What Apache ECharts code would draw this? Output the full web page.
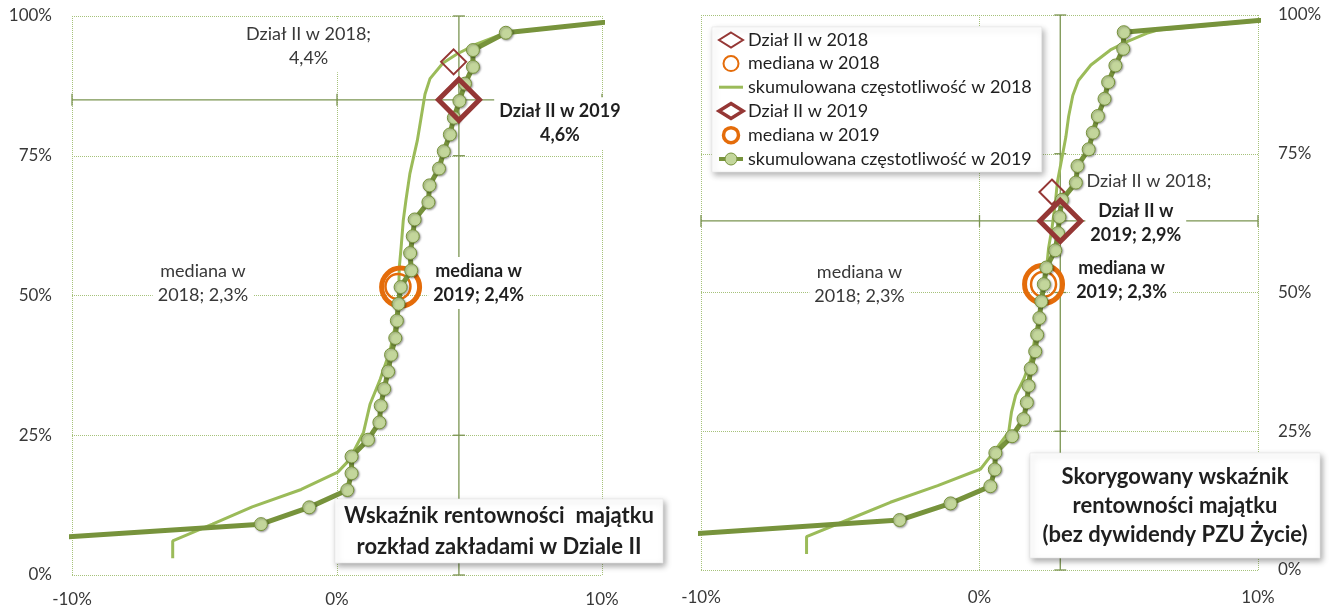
<!DOCTYPE html>
<html>
<head>
<meta charset="utf-8">
<script src="https://cdn.jsdelivr.net/npm/echarts@6/dist/echarts.min.js"></script>
<style>
  html, body { margin: 0; padding: 0; background: #ffffff; }
  #chart { width: 1329px; height: 610px; }
</style>
</head>
<body>
<div id="chart"></div>
<script>
// ---------- axes ----------
const X_MIN = -10, X_MAX = 10, X_STEP = 10;
const Y_MIN = 0, Y_MAX = 100, Y_STEP = 25;
const xTickValues = [-10, 0, 10];
const yTickValues = [0, 25, 50, 75, 100];

// ---------- series names ----------
const NAME_D2018 = 'Dział II w 2018';
const NAME_M2018 = 'mediana w 2018';
const NAME_C2018 = 'skumulowana częstotliwość w 2018';
const NAME_D2019 = 'Dział II w 2019';
const NAME_M2019 = 'mediana w 2019';
const NAME_C2019 = 'skumulowana częstotliwość w 2019';

// ---------- left panel: ROA, distribution of insurers in Dział II ----------
// [rate of return %, cumulative share %]
const cum2019Left = [
  [-2.87, 9.1], [-1.05, 12.1], [0.39, 15.2], [0.55, 18.2], [0.55, 21.2],
  [1.17, 24.2], [1.60, 27.3], [1.65, 30.3], [1.78, 33.3], [1.93, 36.4],
  [2.04, 39.4], [2.20, 42.4], [2.26, 45.5], [2.32, 48.5], [2.40, 51.5],
  [2.80, 54.5], [2.76, 57.6], [2.86, 60.6], [2.93, 63.6], [3.45, 66.7],
  [3.49, 69.7], [3.85, 72.7], [4.03, 75.8], [4.26, 78.8], [4.41, 81.8],
  [4.62, 84.8], [4.83, 87.9], [5.13, 90.9], [5.13, 93.9], [6.37, 97.0]
];
const cum2019LeftTails = [[-12.5, 6.1], [12.3, 100]];
const cum2018Left = [
  [-6.2, 3.0], [-6.2, 6.1], [-4.7, 9.1], [-3.2, 12.2], [-1.35, 15.3],
  [0.03, 18.4], [0.45, 20.5], [1.0, 25.5], [1.25, 30.6], [1.63, 35.0],
  [2.0, 40.1], [2.2, 44.6], [2.32, 49.0], [2.35, 55.0], [2.42, 58.6],
  [2.5, 63.4], [2.6, 67.0], [2.75, 71.8], [3.03, 77.7],
  [3.32, 86.0], [3.51, 88.8], [4.0, 91.6], [4.53, 93.2], [5.28, 95.0],
  [6.04, 96.4], [6.5, 97.0], [12.3, 100]
];
const dzial2018Left = [4.4, 91.8];
const dzial2019Left = [4.6, 85.0];
const median2018Left = [2.3, 51.6];
const median2019Left = [2.4, 51.5];

// ---------- right panel: adjusted ROA (without PZU Życie dividend) ----------
const cum2019Right = [
  [-2.87, 9.0], [-1.04, 12.0], [0.39, 15.1], [0.55, 18.1], [0.57, 21.1],
  [1.17, 24.1], [1.58, 27.2], [1.70, 30.2], [1.76, 33.2], [1.84, 36.3],
  [2.00, 39.4], [2.07, 42.4], [2.15, 45.4], [2.22, 48.4], [2.31, 51.5],
  [2.40, 54.5], [2.72, 57.6], [2.82, 60.7], [2.87, 63.6], [2.96, 66.7],
  [3.46, 69.8], [3.52, 72.8], [3.92, 75.8], [4.07, 78.8], [4.25, 81.8],
  [4.49, 84.9], [4.62, 87.9], [4.88, 90.9], [5.16, 93.9], [5.18, 96.9]
];
const cum2019RightTails = [[-11.5, 6.1], [12.3, 100]];
const cum2018Right = [
  [-6.21, 2.9], [-6.21, 6.0], [-4.7, 9.1], [-3.2, 12.2], [-1.5, 15.2],
  [0.04, 18.2], [0.55, 21.5], [1.05, 24.9], [1.15, 28.5], [1.3, 31.5],
  [1.6, 34.5], [1.85, 38.0], [2.0, 42.0], [2.15, 46.0], [2.3, 50.0],
  [2.4, 54.0], [2.48, 58.0], [2.6, 61.5], [2.72, 66.0], [2.8, 70.0],
  [2.97, 74.5], [3.1, 78.0], [3.2, 81.7], [3.35, 85.5], [3.55, 88.2],
  [4.0, 91.0], [4.7, 93.7], [5.3, 95.2], [6.0, 96.7], [6.4, 97.3], [12.3, 100]
];
const dzial2018Right = [2.6, 68.1];
const dzial2019Right = [2.9, 62.9];
const median2018Right = [2.3, 51.5];
const median2019Right = [2.3, 51.5];

// ---------- panel captions ----------
const captionLeft = 'Wskaźnik rentowności  majątku\nrozkład zakładami w Dziale II';
const captionRight = 'Skorygowany wskaźnik\nrentowności majątku\n(bez dywidendy PZU Życie)';

// ---------- styling ----------
const FONT = 'Lato, "Open Sans", sans-serif';
const GRID_COLOR = '#a6c27a';
const CROSS_COLOR = '#7a9450';
const DARK_GREEN = '#77933c';
const LIGHT_GREEN = '#9bbb59';
const MARKER_FILL = '#c3d69b';
const DARK_RED = '#953735';
const ORANGE = '#e46c0a';
const TEXT_GRAY = '#383838';
const TEXT_DARK = '#1f1f1f';

const pct = v => v.toFixed(1).replace('.', ',') + '%';

function labelStyle(bold, offset, formatter) {
  return {
    show: true,
    position: 'inside',
    offset: offset,
    formatter: formatter,
    fontFamily: FONT,
    fontSize: 18,
    fontWeight: bold ? 'bold' : 'normal',
    color: bold ? TEXT_DARK : TEXT_GRAY,
    lineHeight: 24,
    align: 'center',
    verticalAlign: 'middle',
    backgroundColor: '#ffffff',
    padding: [2, 5]
  };
}

// crosshair through the Dział II 2019 point, with small cross ticks at grid lines
function crosshairRender(params, api) {
  const x0 = api.value(0), y0 = api.value(1);
  const top = api.coord([x0, Y_MAX]), bottom = api.coord([x0, Y_MIN]);
  const left = api.coord([X_MIN, y0]), right = api.coord([X_MAX, y0]);
  const style = { stroke: CROSS_COLOR, lineWidth: 1.3 };
  const children = [
    { type: 'line', shape: { x1: top[0], y1: top[1], x2: bottom[0], y2: bottom[1] }, style },
    { type: 'line', shape: { x1: left[0], y1: left[1], x2: right[0], y2: right[1] }, style }
  ];
  yTickValues.forEach(v => {
    const p = api.coord([x0, v]);
    children.push({ type: 'line', shape: { x1: p[0] - 6, y1: p[1], x2: p[0] + 6, y2: p[1] }, style });
  });
  xTickValues.forEach(v => {
    const p = api.coord([v, y0]);
    children.push({ type: 'line', shape: { x1: p[0], y1: p[1] - 6, x2: p[0], y2: p[1] + 6 }, style });
  });
  return { type: 'group', children };
}

function panelSeries(idx, d, labels) {
  const ax = { xAxisIndex: idx, yAxisIndex: idx };
  const line2019 = [{ value: d.tails[0], symbol: 'none' }]
    .concat(d.cum2019.map(p => ({ value: p })))
    .concat([{ value: d.tails[1], symbol: 'none' }]);
  return [
    Object.assign({
      type: 'custom', name: 'crosshair', z: 1, silent: true,
      renderItem: crosshairRender, data: [d.d2019]
    }, ax),
    Object.assign({
      type: 'line', name: NAME_C2018, z: 2, data: d.cum2018,
      symbol: 'none', color: LIGHT_GREEN,
      lineStyle: { color: LIGHT_GREEN, width: 3 },
      itemStyle: { color: LIGHT_GREEN }
    }, ax),
    Object.assign({
      type: 'scatter', name: NAME_D2018, z: 3, data: [d.d2018],
      symbol: 'diamond', symbolSize: 25,
      itemStyle: { color: 'rgba(0,0,0,0)', borderColor: DARK_RED, borderWidth: 2, opacity: 1 },
      label: labelStyle(false, labels.d2018, p => 'Dział II w 2018;\n' + pct(p.value[0]))
    }, ax),
    Object.assign({
      type: 'scatter', name: NAME_M2018, z: 3, data: [d.m2018],
      symbol: 'circle', symbolSize: 25,
      itemStyle: { color: 'rgba(0,0,0,0)', borderColor: ORANGE, borderWidth: 2.5, opacity: 1 },
      label: labelStyle(false, labels.m2018, p => 'mediana w\n2018; ' + pct(p.value[0]))
    }, ax),
    Object.assign({
      type: 'scatter', name: NAME_D2019, z: 4, zlevel: 1, data: [d.d2019],
      symbol: 'diamond', symbolSize: 41,
      itemStyle: { color: 'rgba(0,0,0,0)', borderColor: DARK_RED, borderWidth: 5, opacity: 1 },
      label: labelStyle(true, labels.d2019, labels.d2019Text)
    }, ax),
    Object.assign({
      type: 'scatter', name: NAME_M2019, z: 4, data: [d.m2019],
      symbol: 'circle', symbolSize: 38,
      itemStyle: { color: 'rgba(0,0,0,0)', borderColor: ORANGE, borderWidth: 5, opacity: 1 },
      label: labelStyle(true, labels.m2019, p => 'mediana w\n2019; ' + pct(p.value[0]))
    }, ax),
    Object.assign({
      type: 'line', name: NAME_C2019, z: 5, data: line2019,
      symbol: 'circle', symbolSize: 13, showAllSymbol: true,
      lineStyle: { color: DARK_GREEN, width: 5 },
      itemStyle: {
        color: MARKER_FILL, borderColor: DARK_GREEN, borderWidth: 1,
        shadowBlur: 2, shadowOffsetX: 1, shadowOffsetY: 1, shadowColor: 'rgba(0,0,0,0.35)'
      }
    }, ax)
  ];
}

function xAxis(gridIndex, margin) {
  return {
    type: 'value', gridIndex, min: X_MIN, max: X_MAX, interval: X_STEP,
    axisLine: { show: false }, axisTick: { show: false },
    axisLabel: { formatter: '{value}%', margin, fontFamily: FONT, fontSize: 17, color: TEXT_GRAY },
    splitLine: { show: true, lineStyle: { color: GRID_COLOR, width: 1, type: [1, 1] } }
  };
}
function yAxis(gridIndex, position) {
  return {
    type: 'value', gridIndex, position, min: Y_MIN, max: Y_MAX, interval: Y_STEP,
    axisLine: { show: false }, axisTick: { show: false },
    axisLabel: { formatter: '{value}%', margin: 20, fontFamily: FONT, fontSize: 17, color: TEXT_GRAY },
    splitLine: { show: true, lineStyle: { color: GRID_COLOR, width: 1, type: [1, 1] } }
  };
}

function captionBox(x, y, w, h, text, lineHeight) {
  return {
    type: 'group',
    children: [
      {
        type: 'rect', z: 100,
        shape: { x, y, width: w, height: h },
        style: {
          fill: '#ffffff', stroke: '#e6e6e6', lineWidth: 0.6,
          shadowBlur: 6, shadowOffsetX: 2, shadowOffsetY: 3, shadowColor: 'rgba(0,0,0,0.35)'
        }
      },
      {
        type: 'text', z: 101,
        style: {
          text, x: x + w / 2, y: y + h / 2,
          textAlign: 'center', textVerticalAlign: 'middle',
          font: 'bold 22px ' + FONT, fill: TEXT_DARK, lineHeight
        }
      }
    ]
  };
}

const chart = echarts.init(document.getElementById('chart'), null, { renderer: 'canvas' });

const option = {
  animation: false,
  backgroundColor: '#ffffff',
  grid: [
    { left: 72, top: 16, width: 530, height: 559 },
    { left: 701, top: 15, width: 557, height: 555 }
  ],
  xAxis: [xAxis(0, 16), xAxis(1, 19)],
  yAxis: [yAxis(0, 'left'), yAxis(1, 'right')],
  legend: {
    orient: 'vertical', left: 712, top: 27,
    padding: [4, 10, 4, 5],
    itemWidth: 24, itemHeight: 15, itemGap: 5.6,
    backgroundColor: '#ffffff',
    borderColor: '#e6e6e6', borderWidth: 0.6,
    shadowBlur: 6, shadowOffsetX: 2, shadowOffsetY: 3, shadowColor: 'rgba(0,0,0,0.3)',
    textStyle: { fontFamily: FONT, fontSize: 18, color: TEXT_DARK },
    data: [
      { name: NAME_D2018, icon: 'diamond', itemStyle: { borderWidth: 2, color: 'rgba(0,0,0,0)', borderColor: DARK_RED, opacity: 1 } },
      { name: NAME_M2018, icon: 'circle', itemStyle: { borderWidth: 2, color: 'rgba(0,0,0,0)', borderColor: ORANGE, opacity: 1 } },
      { name: NAME_C2018, icon: 'path://M0,0L24,0L24,3L0,3Z', itemStyle: { color: LIGHT_GREEN, borderWidth: 0 } },
      { name: NAME_D2019, icon: 'diamond', itemStyle: { borderWidth: 3.5, color: '#ffffff', borderColor: DARK_RED, opacity: 1 } },
      { name: NAME_M2019, icon: 'circle', itemStyle: { borderWidth: 3.5, color: '#ffffff', borderColor: ORANGE, opacity: 1 } },
      { name: NAME_C2019, lineStyle: { width: 4 }, itemStyle: { borderWidth: 1 } }
    ]
  },
  graphic: [
    captionBox(335, 499, 328, 64, captionLeft, 31),
    captionBox(1030, 453, 290, 105, captionRight, 29)
  ],
  series: [].concat(
    panelSeries(0, {
      cum2019: cum2019Left, tails: cum2019LeftTails, cum2018: cum2018Left,
      d2018: dzial2018Left, d2019: dzial2019Left, m2018: median2018Left, m2019: median2019Left
    }, {
      d2018: [-145, -15.5], m2018: [-195, -3], d2019: [101, 23.5], m2019: [78, -4],
      d2019Text: p => 'Dział II w 2019\n' + pct(p.value[0])
    }),
    panelSeries(1, {
      cum2019: cum2019Right, tails: cum2019RightTails, cum2018: cum2018Right,
      d2018: dzial2018Right, d2019: dzial2019Right, m2018: median2018Right, m2019: median2019Right
    }, {
      d2018: [97, 1.5], m2018: [-184, 0], d2019: [75.5, 2], m2019: [78, -4.3],
      d2019Text: p => 'Dział II w\n2019; ' + pct(p.value[0])
    })
  )
};

chart.setOption(option);
</script>
</body>
</html>
